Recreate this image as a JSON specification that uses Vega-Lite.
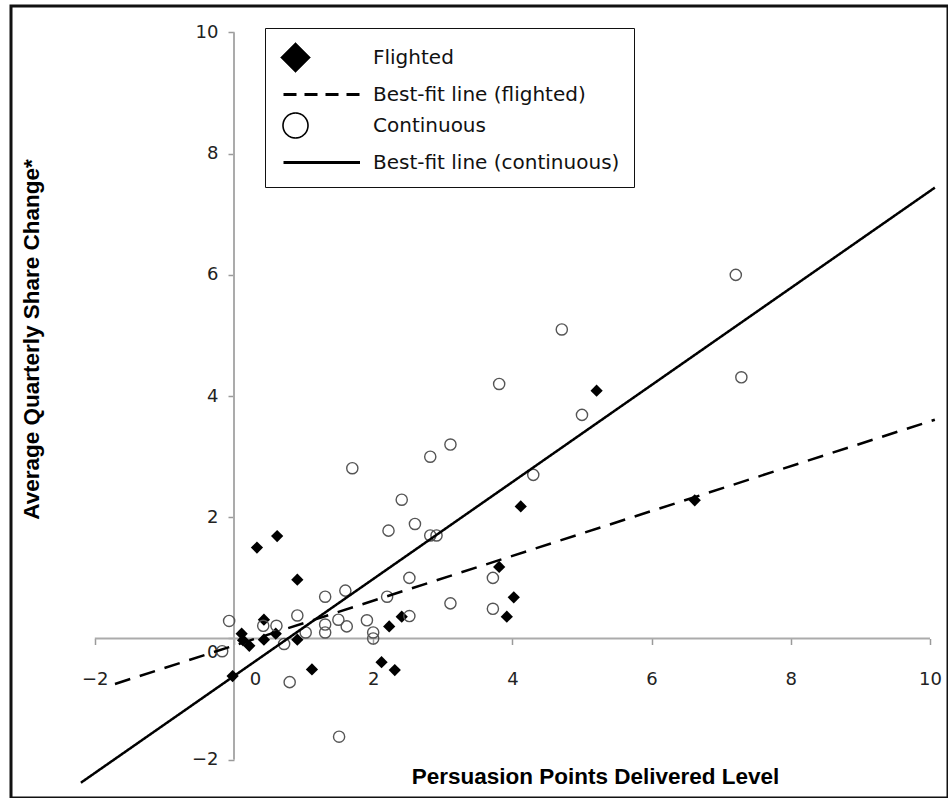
{
  "$schema": "https://vega.github.io/schema/vega-lite/v6.json",
  "width": 937,
  "height": 792,
  "autosize": {"type": "none"},
  "padding": {"left": 11, "top": 6, "right": 0, "bottom": 0},
  "background": "white",
  "view": {"stroke": "#111", "strokeWidth": 3},
  "datasets": {
    "points": [
      {"series": "Flighted", "x": -0.02, "y": -0.62},
      {"series": "Flighted", "x": 0.11, "y": 0.08},
      {"series": "Flighted", "x": 0.13, "y": -0.03},
      {"series": "Flighted", "x": 0.22, "y": -0.12},
      {"series": "Flighted", "x": 0.33, "y": 1.5},
      {"series": "Flighted", "x": 0.43, "y": -0.02},
      {"series": "Flighted", "x": 0.43, "y": 0.31},
      {"series": "Flighted", "x": 0.6, "y": 0.08},
      {"series": "Flighted", "x": 0.62, "y": 1.69},
      {"series": "Flighted", "x": 0.91, "y": 0.97},
      {"series": "Flighted", "x": 0.91, "y": -0.02},
      {"series": "Flighted", "x": 1.12, "y": -0.51},
      {"series": "Flighted", "x": 2.12, "y": -0.39},
      {"series": "Flighted", "x": 2.23, "y": 0.2},
      {"series": "Flighted", "x": 2.31, "y": -0.52},
      {"series": "Flighted", "x": 2.41, "y": 0.36},
      {"series": "Flighted", "x": 3.81, "y": 1.18},
      {"series": "Flighted", "x": 3.92, "y": 0.36},
      {"series": "Flighted", "x": 4.02, "y": 0.68},
      {"series": "Flighted", "x": 4.12, "y": 2.18},
      {"series": "Flighted", "x": 5.21, "y": 4.09},
      {"series": "Flighted", "x": 6.62, "y": 2.28},
      {"series": "Continuous", "x": -0.17, "y": -0.21},
      {"series": "Continuous", "x": -0.07, "y": 0.29},
      {"series": "Continuous", "x": 0.42, "y": 0.21},
      {"series": "Continuous", "x": 0.61, "y": 0.21},
      {"series": "Continuous", "x": 0.72, "y": -0.09},
      {"series": "Continuous", "x": 0.8, "y": -0.72},
      {"series": "Continuous", "x": 0.91, "y": 0.38},
      {"series": "Continuous", "x": 1.03, "y": 0.1},
      {"series": "Continuous", "x": 1.31, "y": 0.69},
      {"series": "Continuous", "x": 1.31, "y": 0.23},
      {"series": "Continuous", "x": 1.31, "y": 0.1},
      {"series": "Continuous", "x": 1.5, "y": 0.31},
      {"series": "Continuous", "x": 1.51, "y": -1.62},
      {"series": "Continuous", "x": 1.6, "y": 0.79},
      {"series": "Continuous", "x": 1.62, "y": 0.2},
      {"series": "Continuous", "x": 1.7, "y": 2.81},
      {"series": "Continuous", "x": 1.91, "y": 0.3},
      {"series": "Continuous", "x": 2.0, "y": 0.1},
      {"series": "Continuous", "x": 2.0, "y": 0.0},
      {"series": "Continuous", "x": 2.2, "y": 0.69},
      {"series": "Continuous", "x": 2.22, "y": 1.78},
      {"series": "Continuous", "x": 2.41, "y": 2.29},
      {"series": "Continuous", "x": 2.52, "y": 1.0},
      {"series": "Continuous", "x": 2.52, "y": 0.37},
      {"series": "Continuous", "x": 2.6, "y": 1.89},
      {"series": "Continuous", "x": 2.82, "y": 1.7},
      {"series": "Continuous", "x": 2.82, "y": 3.0},
      {"series": "Continuous", "x": 2.91, "y": 1.7},
      {"series": "Continuous", "x": 3.11, "y": 3.2},
      {"series": "Continuous", "x": 3.11, "y": 0.58},
      {"series": "Continuous", "x": 3.72, "y": 1.0},
      {"series": "Continuous", "x": 3.72, "y": 0.49},
      {"series": "Continuous", "x": 3.81, "y": 4.2},
      {"series": "Continuous", "x": 4.3, "y": 2.7},
      {"series": "Continuous", "x": 4.71, "y": 5.1},
      {"series": "Continuous", "x": 5.0, "y": 3.69},
      {"series": "Continuous", "x": 7.21, "y": 6.0},
      {"series": "Continuous", "x": 7.29, "y": 4.31}
    ],
    "fits": [
      {"series": "Best-fit line (flighted)", "x": -1.71, "y": -0.75},
      {"series": "Best-fit line (flighted)", "x": 10.07, "y": 3.61},
      {"series": "Best-fit line (continuous)", "x": -2.2, "y": -2.38},
      {"series": "Best-fit line (continuous)", "x": 10.07, "y": 7.44}
    ]
  },
  "layer": [
    {
      "data": {"values": [{}]},
      "mark": {"type": "rule", "color": "#ababab", "strokeWidth": 2},
      "encoding": {
        "x": {"datum": -2, "type": "quantitative", "title": "Persuasion Points Delivered Level", "scale": {"domain": [-3.204, 10.259], "nice": false, "zero": false}},
        "x2": {"datum": 10},
        "y": {"datum": 0, "type": "quantitative", "title": "Average Quarterly Share Change*", "scale": {"domain": [-2.632, 10.437], "nice": false, "zero": false}}
      }
    },
    {
      "data": {"values": [{}]},
      "mark": {"type": "rule", "color": "#ababab", "strokeWidth": 2},
      "encoding": {
        "x": {"datum": 0, "type": "quantitative", "title": "Persuasion Points Delivered Level"},
        "y": {"datum": -2, "type": "quantitative", "title": "Average Quarterly Share Change*"},
        "y2": {"datum": 10}
      }
    },
    {
      "data": {"name": "points"},
      "mark": {"type": "point", "filled": true, "opacity": 1},
      "encoding": {
        "x": {
          "field": "x", "type": "quantitative",
          "title": "Persuasion Points Delivered Level",
          "axis": {
            "orient": "bottom", "offset": -159.5,
            "values": [-2, 0, 2, 4, 6, 8, 10], "format": "d",
            "domain": false, "grid": false,
            "ticks": true, "tickSize": 6, "tickColor": "#9a9a9a", "tickWidth": 1.5,
            "labelFont": "DejaVu Sans", "labelFontSize": 18, "labelColor": "#222",
            "labelPadding": 26, "labelFlush": false, "labelOverlap": false,
            "labelOffset": {"condition": {"test": "datum.value === 0", "value": 21}, "value": 0},
            "titleFont": "Liberation Sans", "titleFontWeight": "bold", "titleFontSize": 22.5, "titleColor": "#000",
            "titleX": 584, "titleY": 137.5, "titleBaseline": "middle", "titleAlign": "center"
          }
        },
        "y": {
          "field": "y", "type": "quantitative",
          "title": "Average Quarterly Share Change*",
          "axis": {
            "orient": "left", "offset": -223,
            "values": [-2, 0, 2, 4, 6, 8, 10], "format": "d",
            "domain": false, "grid": false,
            "ticks": true, "tickSize": 6, "tickColor": "#9a9a9a", "tickWidth": 1.5,
            "labelFont": "DejaVu Sans", "labelFontSize": 18, "labelColor": "#222",
            "labelPadding": 10, "labelFlush": false, "labelOverlap": false,
            "labelOffset": {"condition": {"test": "datum.value === 0", "value": 14}, "value": 0},
            "titleFont": "Liberation Sans", "titleFontWeight": "bold", "titleFontSize": 22.5, "titleColor": "#000",
            "titleX": -203, "titleY": 333, "titleAngle": 270, "titleBaseline": "middle", "titleAlign": "center"
          }
        },
        "shape": {
          "field": "series", "type": "nominal",
          "scale": {
            "domain": ["Flighted", "Best-fit line (flighted)", "Continuous", "Best-fit line (continuous)"],
            "range": ["diamond", "M-0.8,0H4.3", "circle", "M-0.8,0H4.3"]
          },
          "legend": {
            "title": null, "orient": "none", "legendX": 254, "legendY": 22, "direction": "vertical",
            "labelFont": "DejaVu Sans", "labelFontSize": 20, "labelColor": "#111",
            "labelOffset": 61, "labelLimit": 500, "padding": 14, "rowPadding": 4,
            "strokeColor": "#111", "fillColor": "white",
            "symbolStrokeColor": "#000", "symbolStrokeWidth": 2.5, "symbolOpacity": 1
          }
        },
        "fill": {"condition": {"test": "datum.series === 'Flighted'", "value": "#000"}, "value": "transparent"},
        "stroke": {"condition": {"test": "datum.series === 'Flighted'", "value": "#000"}, "value": "#555"},
        "strokeWidth": {"condition": {"test": "datum.series === 'Flighted'", "value": 0}, "value": 1.4},
        "size": {"condition": {"test": "datum.series === 'Flighted'", "value": 150}, "value": 125}
      }
    },
    {
      "data": {"values": []},
      "mark": {"type": "point", "filled": true},
      "encoding": {
        "x": {"field": "x", "type": "quantitative", "title": "Persuasion Points Delivered Level"},
        "y": {"field": "y", "type": "quantitative", "title": "Average Quarterly Share Change*"},
        "shape": {
          "field": "series", "type": "nominal",
          "scale": {
            "domain": ["Flighted", "Best-fit line (flighted)", "Continuous", "Best-fit line (continuous)"],
            "range": ["diamond", "M-0.8,0H4.3", "circle", "M-0.8,0H4.3"]
          },
          "legend": {
            "title": null, "orient": "none", "legendX": 254, "legendY": 22, "direction": "vertical",
            "labelFont": "DejaVu Sans", "labelFontSize": 20, "labelColor": "#111",
            "labelOffset": 61, "labelLimit": 500, "padding": 14, "rowPadding": 4,
            "strokeColor": "#111", "fillColor": "white",
            "symbolStrokeColor": "#000", "symbolStrokeWidth": 2.5, "symbolOpacity": 1
          }
        },
        "size": {
          "field": "series", "type": "nominal",
          "scale": {
            "type": "ordinal",
            "domain": ["Flighted", "Best-fit line (flighted)", "Continuous", "Best-fit line (continuous)"],
            "range": [900, 900, 625, 900]
          },
          "legend": {
            "title": null, "orient": "none", "legendX": 254, "legendY": 22, "direction": "vertical",
            "labelFont": "DejaVu Sans", "labelFontSize": 20, "labelColor": "#111",
            "labelOffset": 61, "labelLimit": 500, "padding": 14, "rowPadding": 4,
            "strokeColor": "#111", "fillColor": "white",
            "symbolStrokeColor": "#000", "symbolStrokeWidth": 2.5, "symbolOpacity": 1
          }
        },
        "strokeWidth": {
          "field": "series", "type": "nominal",
          "scale": {
            "type": "ordinal",
            "domain": ["Flighted", "Best-fit line (flighted)", "Continuous", "Best-fit line (continuous)"],
            "range": [0.5, 3, 1.6, 3]
          },
          "legend": {
            "title": null, "orient": "none", "legendX": 254, "legendY": 22, "direction": "vertical",
            "labelFont": "DejaVu Sans", "labelFontSize": 20, "labelColor": "#111",
            "labelOffset": 61, "labelLimit": 500, "padding": 14, "rowPadding": 4,
            "strokeColor": "#111", "fillColor": "white",
            "symbolStrokeColor": "#000", "symbolStrokeWidth": 2.5, "symbolOpacity": 1
          }
        },
        "strokeDash": {
          "field": "series", "type": "nominal",
          "scale": {
            "domain": ["Flighted", "Best-fit line (flighted)", "Continuous", "Best-fit line (continuous)"],
            "range": [[1, 0], [13, 8], [1, 0], [1, 0]]
          },
          "legend": {
            "title": null, "orient": "none", "legendX": 254, "legendY": 22, "direction": "vertical",
            "labelFont": "DejaVu Sans", "labelFontSize": 20, "labelColor": "#111",
            "labelOffset": 61, "labelLimit": 500, "padding": 14, "rowPadding": 4,
            "strokeColor": "#111", "fillColor": "white",
            "symbolStrokeColor": "#000", "symbolStrokeWidth": 2.5, "symbolOpacity": 1
          }
        },
        "fill": {
          "field": "series", "type": "nominal",
          "scale": {
            "domain": ["Flighted", "Best-fit line (flighted)", "Continuous", "Best-fit line (continuous)"],
            "range": ["#000", "transparent", "transparent", "transparent"]
          },
          "legend": {
            "title": null, "orient": "none", "legendX": 254, "legendY": 22, "direction": "vertical",
            "labelFont": "DejaVu Sans", "labelFontSize": 20, "labelColor": "#111",
            "labelOffset": 61, "labelLimit": 500, "padding": 14, "rowPadding": 4,
            "strokeColor": "#111", "fillColor": "white",
            "symbolStrokeColor": "#000", "symbolStrokeWidth": 2.5, "symbolOpacity": 1
          }
        }
      }
    },
    {
      "data": {"name": "fits"},
      "mark": {"type": "line", "color": "#000", "strokeWidth": 2.5},
      "encoding": {
        "x": {"field": "x", "type": "quantitative", "title": "Persuasion Points Delivered Level"},
        "y": {"field": "y", "type": "quantitative", "title": "Average Quarterly Share Change*"},
        "detail": {"field": "series", "type": "nominal"},
        "strokeDash": {"condition": {"test": "datum.series === 'Best-fit line (flighted)'", "value": [16, 10]}, "value": [1, 0]}
      }
    }
  ]
}
